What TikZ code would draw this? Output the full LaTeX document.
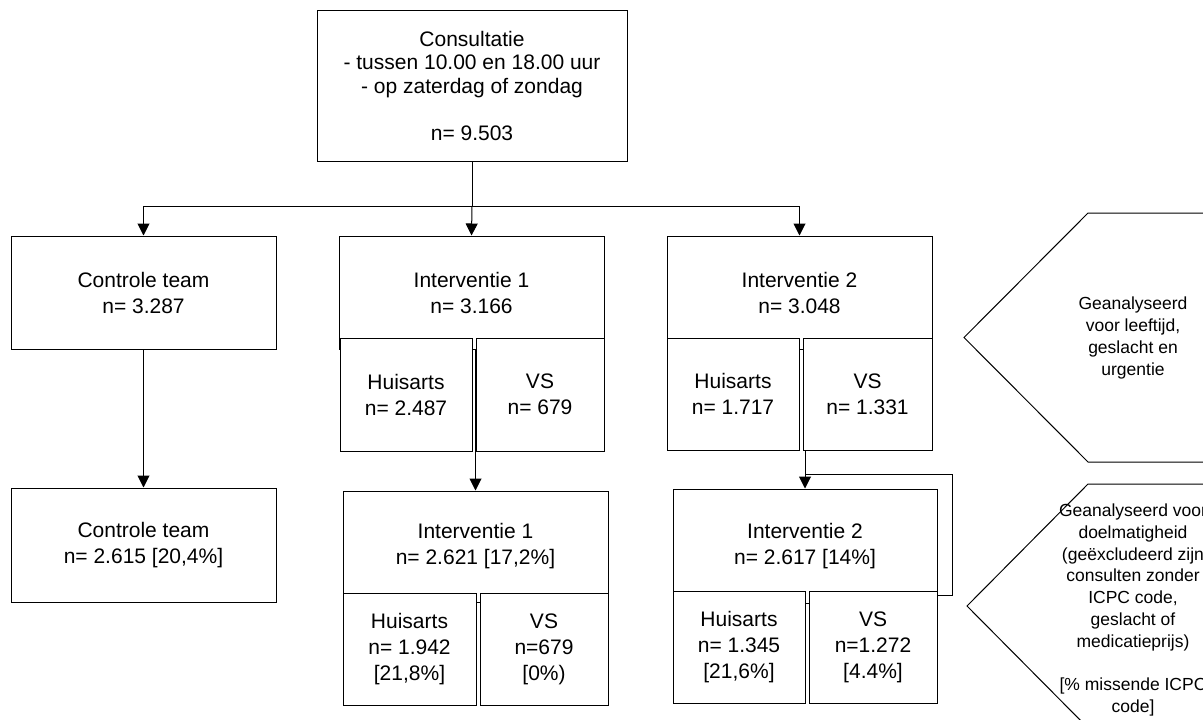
\documentclass[tikz,border=0pt]{standalone}
\usepackage{fontspec}
\setmainfont{Liberation Sans}
\usetikzlibrary{arrows.meta}
\begin{document}
\begin{tikzpicture}[x=1pt,y=-1pt,
  line width=1pt,
  box/.style={draw, fill=white, inner sep=0pt, align=center,
    font=\fontsize{21}{26}\selectfont},
  hextext/.style={inner sep=0pt, align=center, font=\fontsize{17.5}{21.8}\selectfont},
  arr/.style={-{Triangle[width=12pt,length=12pt]}}]
\useasboundingbox (0,0) rectangle (1203,720);
\clip (0,0) rectangle (1203,720);
\fill[white] (0,0) rectangle (1203,720);

% top box
\node[box, minimum width=310pt, minimum height=151pt, font=\fontsize{21}{23.5}\selectfont]
  (top) at (472,85.5) {Consultatie\\- tussen 10.00 en 18.00 uur\\- op zaterdag of zondag\\[23.5pt]n= 9.503};
\coordinate (split) at (472,206);

% first row
\node[box, minimum width=265pt, minimum height=113pt] (c1) at (143.5,292.5) {Controle team\\n= 3.287};
\node[box, minimum width=265pt, minimum height=113pt] (i1) at (471.5,292.5) {Interventie 1\\n= 3.166};
\node[box, minimum width=265pt, minimum height=113pt] (i2) at (799.5,292.5) {Interventie 2\\n= 3.048};

% connectors first row
\draw (top.south) -- (split);
\draw[arr] (split) -- (i1.north);
\draw[arr] (split) -| (c1.north);
\draw[arr] (split) -| (i2.north);

% second row
\node[box, minimum width=265pt, minimum height=114pt] (c2) at (143.5,545) {Controle team\\n= 2.615 [20,4\%]};
\node[box, minimum width=265pt, minimum height=111pt] (i1low) at (475.5,546.5) {Interventie 1\\n= 2.621 [17,2\%]};
\node[box, minimum width=264pt, minimum height=114pt] (i2low) at (805,546) {Interventie 2\\n= 2.617 [14\%]};

% connectors to second row
\draw[arr] (c1.south) -- (c2.north);
\draw[arr] (i1.south -| i1low.north) -- (i1low.north);
\draw[arr] (i2.south -| i2low.north) -- (i2low.north);
\draw (i2low.north) ++(0,-14) -- ++(147,0) -- ++(0,121) -- ++(-15,0);

% sub boxes first row
\node[box, minimum width=132pt, minimum height=113pt] (i1h) at (406,394.5) {Huisarts\\n= 2.487};
\node[box, minimum width=128pt, minimum height=113pt] (i1v) at (540,394.5) {VS\\n= 679};
\node[box, minimum width=132pt, minimum height=112pt] (i2h) at (733,394) {Huisarts\\n= 1.717};
\node[box, minimum width=129pt, minimum height=112pt] (i2v) at (867.5,394) {VS\\n= 1.331};

% sub boxes second row
\node[box, minimum width=133pt, minimum height=112pt] (i1lh) at (409.5,649) {Huisarts\\n= 1.942\\{[}21,8\%{]}};
\node[box, minimum width=128pt, minimum height=112pt] (i1lv) at (544,649) {VS\\n=679\\{[}0\%)};
\node[box, minimum width=132pt, minimum height=112pt] (i2lh) at (739,647) {Huisarts\\n= 1.345\\{[}21,6\%{]}};
\node[box, minimum width=128pt, minimum height=112pt] (i2lv) at (873,647) {VS\\n=1.272\\{[}4.4\%{]}};

% hexagon 1
\draw (1250,213) -- (1088,213) -- (964,337.5) -- (1088,462) -- (1250,462);
\node[hextext] (hex1) at (1133,338) {Geanalyseerd\\voor leeftijd,\\geslacht en\\urgentie};

% hexagon 2
\draw (1250,484) -- (1088,484) -- (967,606) -- (1088,728) -- (1250,728);
\node[hextext] (hex2) at (1133,610) {Geanalyseerd voor\\doelmatigheid\\(geëxcludeerd zijn\\consulten zonder\\ICPC code,\\geslacht of\\medicatieprijs)\\[21.8pt]{[}\% missende ICPC\\code{]}};
\end{tikzpicture}
\end{document}
